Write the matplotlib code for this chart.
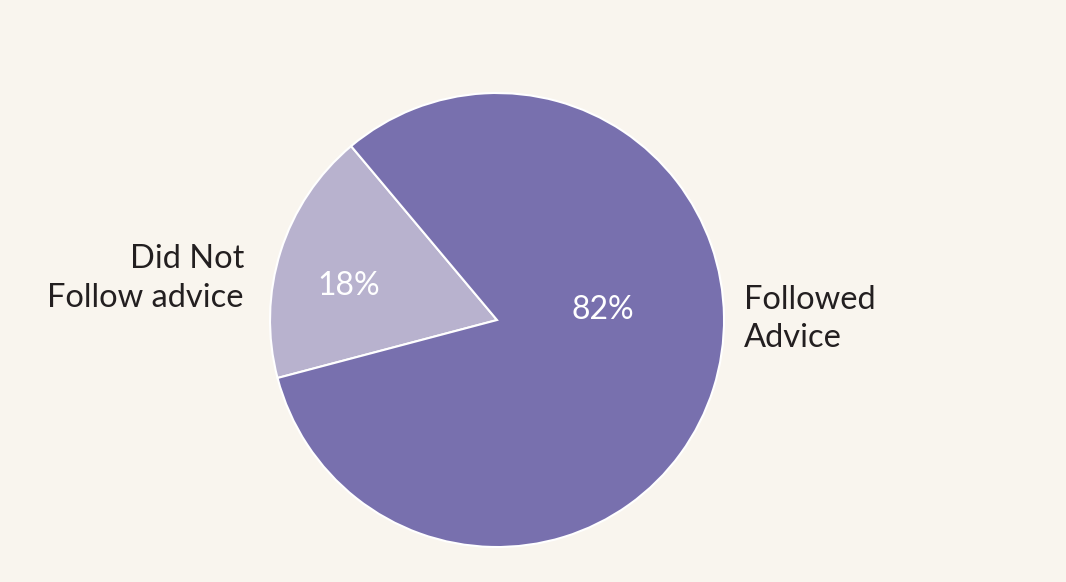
import matplotlib
matplotlib.use("Agg")
import matplotlib.pyplot as plt

categories = ["Did Not\nFollow advice", "Followed\nAdvice"]
values = [18, 82]
pct_labels = ["18%", "82%"]
colors = ["#B8B2CE", "#7870AE"]

bg = "#F9F5EE"
fig = plt.figure(figsize=(10.66, 5.82), dpi=100, facecolor=bg)
ax = fig.add_axes([0.2533, 0.0601, 0.4259, 0.7801])
ax.set_facecolor(bg)

start = 130.0
wedges, _ = ax.pie(values, colors=colors, startangle=start, counterclock=True,
                   radius=1, wedgeprops=dict(edgecolor="white", linewidth=1.5))
ax.set_xlim(-1, 1)
ax.set_ylim(-1, 1)
ax.set_aspect("equal")
ax.axis("off")

font = "Lato"
# percentage labels
ax.text(-0.652, 0.150, pct_labels[0], color="white", fontsize=23, ha="center", va="center", family=font)
ax.text(0.467, 0.044, pct_labels[1], color="white", fontsize=23, ha="center", va="center", family=font)
# category labels
ax.text(-1.115, 0.183, categories[0], color="#231F20", fontsize=23.5, ha="right", va="center",
        family=font, linespacing=1.36, multialignment="right")
ax.text(1.088, 0.005, categories[1], color="#231F20", fontsize=23.5, ha="left", va="center",
        family=font, linespacing=1.36, multialignment="left")

fig.savefig("out.png", dpi=100, facecolor=bg)
